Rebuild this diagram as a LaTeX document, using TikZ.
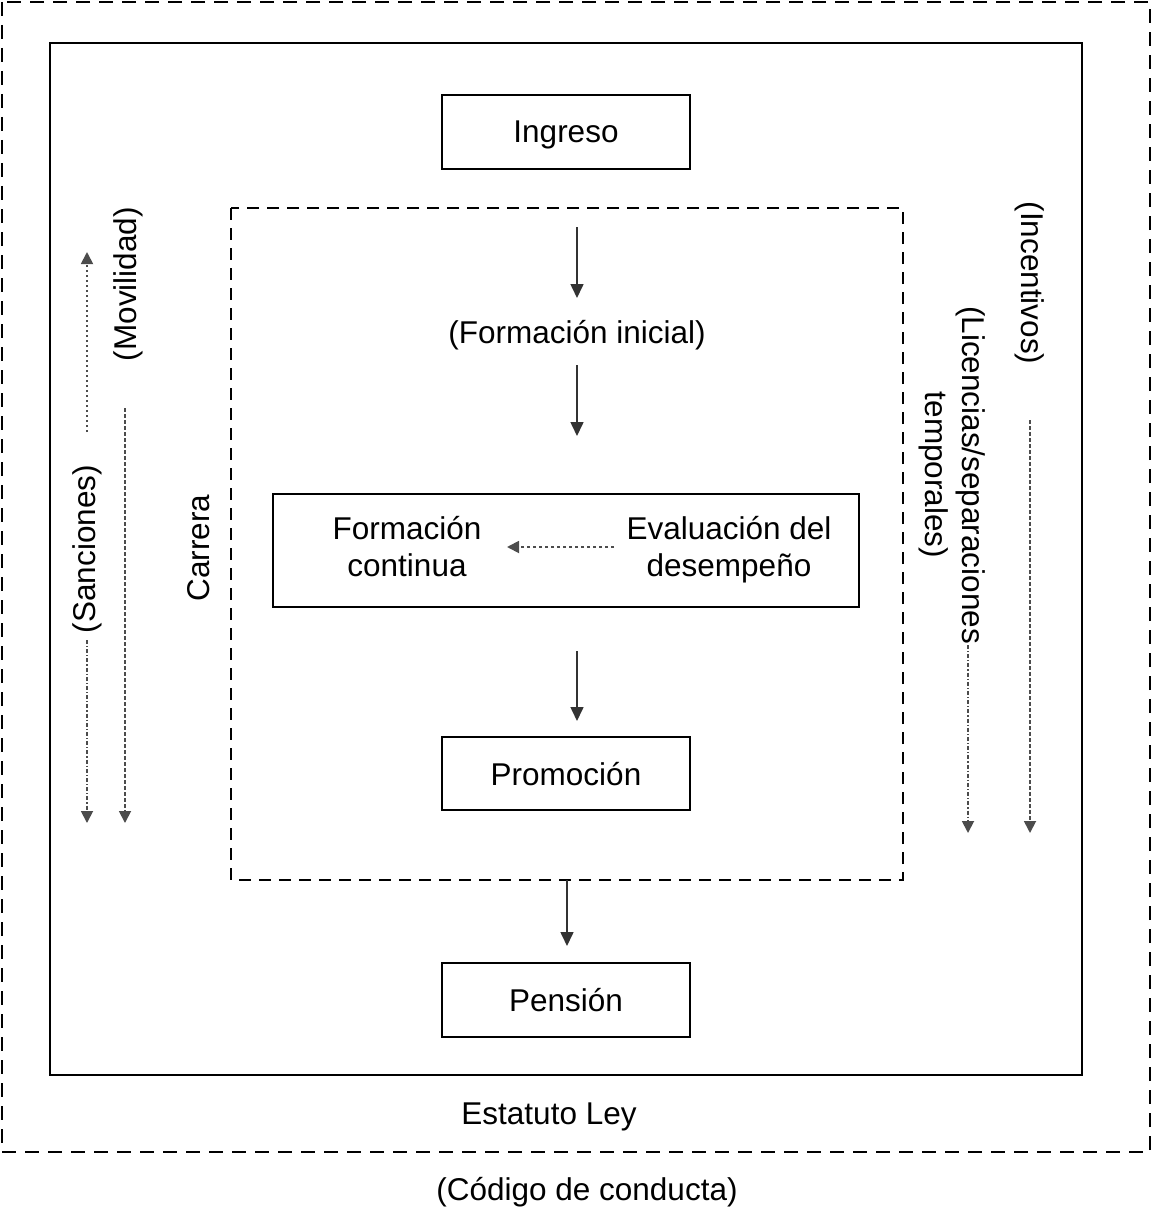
\documentclass[tikz,border=0pt]{standalone}
\usepackage{fontspec}
\setmainfont{Liberation Sans}
\usetikzlibrary{arrows.meta}
\begin{document}
\begin{tikzpicture}[x=1pt,y=-1pt,
  txt/.style={font=\fontsize{31.5}{37}\selectfont, inner sep=0pt, align=center},
  boxnode/.style={draw, line width=2pt, minimum width=248pt, minimum height=74pt, inner sep=0pt},
  framesolid/.style={line width=2pt},
  framedash/.style={line width=2pt, dash pattern=on 14pt off 9pt},
  carreradash/.style={line width=1.8pt, dash pattern=on 12pt off 8pt},
  solidarrow/.style={-{Triangle[length=14pt,width=13pt]}, line width=1.6pt, draw=black!80, fill=black!80},
  grayarrow/.style={-{Triangle[length=12pt,width=12pt]}, line width=1.8pt, draw=black!70, dash pattern=on 3.5pt off 2.5pt},
  dotarrow/.style={-{Triangle[length=12pt,width=12pt]}, line width=1.8pt, draw=black!70, dash pattern=on 2.5pt off 2.5pt},
  dasharrowdot/.style={-{Triangle[length=12pt,width=12pt]}, line width=1.8pt, draw=black!70, dash pattern=on 4pt off 2pt on 1.2pt off 2pt}
]
\useasboundingbox (0,0) rectangle (1153,1209);

% frames
\draw[framedash] (2,2) rectangle (1150,1152);
\draw[framesolid] (50,43) rectangle (1082,1075);
\draw[carreradash] (231,208) rectangle (903,880);

% boxes
\node[boxnode] (ingreso) at (566,132) {};
\node[boxnode, minimum height=73pt] (promocion) at (566,773.5) {};
\node[boxnode] (pension) at (566,1000) {};
\node[draw, line width=2pt, minimum width=586pt, minimum height=113pt, inner sep=0pt] (mid) at (566,550.5) {};

% box labels (placed on baselines)
\node[txt, anchor=base] (ingresolbl) at (566,143) {Ingreso};
\node[txt, anchor=base] (promocionlbl) at (566,785) {Promoción};
\node[txt, anchor=base] (pensionlbl) at (566,1011.5) {Pensión};

% texts
\node[txt, anchor=base] (finicial) at (577,343) {(Formación inicial)};
\node[txt] (fcont) at (407,547) {Formación\\continua};
\node[txt] (evald) at (729,550) {Evaluación del\\desempeño};
\node[txt, anchor=base] (estatuto) at (549,1124) {Estatuto Ley};
\node[txt, anchor=base] (codigo) at (587,1200) {(Código de conducta)};
\node[txt, rotate=90] (carrera) at (199,548) {Carrera};
\node[txt, rotate=90] (movilidad) at (128,284) {(Movilidad)};
\node[txt, rotate=90] (sanciones) at (87,549) {(Sanciones)};
\node[txt, rotate=-90] (incentivos) at (1030,283) {(Incentivos)};
\node[txt, rotate=-90] (licencias) at (952,475) {(Licencias/separaciones\\temporales)};

% coordinates for arrow ends
\coordinate (a1s) at (577,227);
\coordinate (a1e) at (577,298);
\coordinate (a2s) at (577,365);
\coordinate (a2e) at (577,436);
\coordinate (a3s) at (577,651);
\coordinate (a3e) at (577,721);
\coordinate (a4s) at (567,880);
\coordinate (a4e) at (567,946);
\coordinate (evs) at (614,547);
\coordinate (eve) at (507,547);
\coordinate (sus) at (87,432);
\coordinate (sue) at (87,252);
\coordinate (sds) at (87,640);
\coordinate (sde) at (87,823);
\coordinate (mvs) at (125,408);
\coordinate (mve) at (125,823);
\coordinate (ins) at (1030,420);
\coordinate (ine) at (1030,833);
\coordinate (lis) at (968,645);
\coordinate (lie) at (968,833);

% solid arrows
\draw[solidarrow] (a1s) -- (a1e);
\draw[solidarrow] (a2s) -- (a2e);
\draw[solidarrow] (a3s) -- (a3e);
\draw[solidarrow] (a4s) -- (a4e);

% gray dashed arrows
\draw[grayarrow] (evs) -- (eve);
\draw[dotarrow] (sus) -- (sue);
\draw[dasharrowdot] (sds) -- (sde);
\draw[grayarrow] (mvs) -- (mve);
\draw[grayarrow] (ins) -- (ine);
\draw[dasharrowdot] (lis) -- (lie);
\end{tikzpicture}
\end{document}
